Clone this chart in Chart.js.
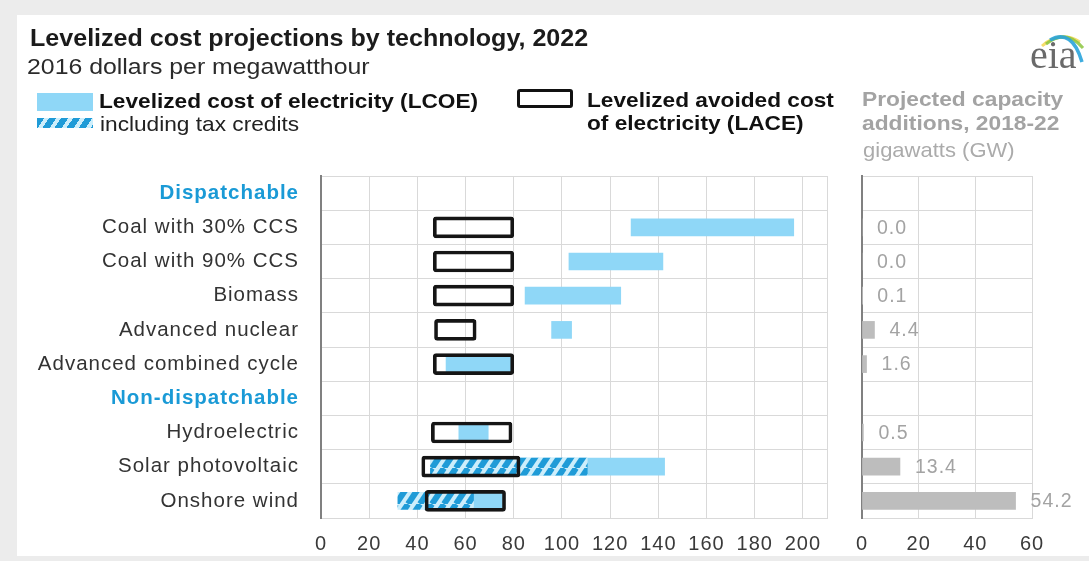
<!DOCTYPE html>
<html>
<head>
<meta charset="utf-8">
<title>Levelized cost projections by technology, 2022</title>
<script src="https://cdn.jsdelivr.net/npm/chart.js@4.4.1/dist/chart.umd.min.js"></script>
<style>
  html, body { margin: 0; padding: 0; width: 1089px; height: 561px; overflow: hidden;
    background: #ececec; font-family: "Liberation Sans", Arial, sans-serif; }
  #panel { position: absolute; left: 17px; top: 15px; width: 1072px; height: 541px; background: #fff; }
  canvas { position: absolute; left: 0; top: 0; }
  .t { position: absolute; white-space: nowrap; line-height: 1; transform: scaleX(1.09); transform-origin: 0 0; }
  .sw { position: absolute; box-sizing: border-box; }
</style>
</head>
<body>
<div id="panel"></div>
<canvas id="costChart" width="1089" height="561"></canvas>
<canvas id="capChart" width="1089" height="561"></canvas>

<div class="t" style="left:30px;top:27px;font-size:23px;font-weight:bold;color:#1b1b1b">Levelized cost projections by technology, 2022</div>
<div class="t" style="left:27px;top:55px;font-size:22.8px;color:#2b2b2b">2016 dollars per megawatthour</div>

<!-- legend -->
<div class="sw" style="left:37px;top:93px;width:56px;height:18px;background:#8fd7f7"></div>
<div class="sw" style="left:37px;top:118px;width:56px;height:10px;background:repeating-linear-gradient(124deg,#1f9bd7 0 6px,#cdeefb 6px 10px)"></div>
<div class="t" style="left:99px;top:91px;font-size:20.8px;font-weight:bold;color:#111">Levelized cost of electricity (LCOE)</div>
<div class="t" style="left:100px;top:114px;font-size:20.8px;color:#222">including tax credits</div>
<div class="sw" style="left:517px;top:89px;width:56px;height:19px;border:3px solid #111;border-radius:3px"></div>
<div class="t" style="left:587px;top:90px;font-size:20.8px;font-weight:bold;color:#111">Levelized avoided cost</div>
<div class="t" style="left:587px;top:113px;font-size:20.8px;font-weight:bold;color:#111">of electricity (LACE)</div>

<!-- capacity panel heading -->
<div class="t" style="left:862px;top:89px;font-size:20.9px;font-weight:bold;color:#a3a3a3">Projected capacity</div>
<div class="t" style="left:862px;top:113px;font-size:20.9px;font-weight:bold;color:#a3a3a3">additions, 2018-22</div>
<div class="t" style="left:863px;top:140px;font-size:20.2px;color:#ababab">gigawatts (GW)</div>

<!-- agency mark -->
<svg style="position:absolute;left:1020px;top:22px" width="69" height="56" viewBox="0 0 69 56">
  <path d="M22 24 Q40 8 60 20" fill="none" stroke="#f3d447" stroke-width="3" opacity="0.8"/>
  <path d="M26 22 Q46 6 63 26" fill="none" stroke="#8cc63f" stroke-width="3" opacity="0.85"/>
  <path d="M30 18 Q52 6 62 40" fill="none" stroke="#2aa4dc" stroke-width="3.5" opacity="0.9"/>
  <text x="10" y="46" font-family="Liberation Serif, serif" font-size="40" fill="#6a6a6a">eia</text>
</svg>

<script>
// Rows of the chart, top to bottom; group headings carry no values.
const categories = [
  'Dispatchable',
  'Coal with 30% CCS',
  'Coal with 90% CCS',
  'Biomass',
  'Advanced nuclear',
  'Advanced combined cycle',
  'Non-dispatchable',
  'Hydroelectric',
  'Solar photovoltaic',
  'Onshore wind'
];
const groupHeadings = ['Dispatchable', 'Non-dispatchable'];

// Levelized avoided cost of electricity (LACE) range, $/MWh
const laceLow  = [null, 46.6, 46.6, 46.6, 47.1, 46.6, null, 45.8, 41.8, 43.2];
const laceHigh = [null, 80.0, 80.0, 80.0, 64.4, 80.0, null, 79.3, 82.6, 76.6];

// Levelized cost of electricity (LCOE) range, $/MWh
const lcoeLow  = [null, 128.7, 102.9, 84.7, 95.7, 51.9, null, 57.2, 58.0, 45.0];
const lcoeHigh = [null, 196.2, 141.9, 124.4, 104.0, 79.0, null, 69.4, 142.6, 75.3];

// LCOE range including tax credits, $/MWh
const taxLow   = [null, null, null, null, null, null, null, null, 45.4, 31.9];
const taxHigh  = [null, null, null, null, null, null, null, null, 110.5, 63.3];

// Projected capacity additions 2018-22, GW
const capacityGW = [null, 0.0, 0.0, 0.1, 4.4, 1.6, null, 0.5, 13.4, 54.2];

// Axis ticks
const costTicks = [0, 20, 40, 60, 80, 100, 120, 140, 160, 180, 200];
const costAxisMax = 210;
const gwTicks = [0, 20, 40, 60];

const GRID = '#d9d9d9';
const AXIS = '#808080';
const LIGHT_BLUE = '#8fd7f7';
const FONT = 'Liberation Sans';

const ranges = (lo, hi) => lo.map((v, i) => (v == null || hi[i] == null) ? null : [v, hi[i]]);

function stripePattern(dark, light) {
  const c = document.createElement('canvas');
  c.width = 12; c.height = 18;
  const g = c.getContext('2d');
  g.fillStyle = light;
  g.fillRect(0, 0, 12, 18);
  g.strokeStyle = dark;
  g.lineWidth = 6;
  for (const dx of [-12, 0, 12]) {
    g.beginPath();
    g.moveTo(dx, 18);
    g.lineTo(dx + 12, 0);
    g.stroke();
  }
  return g.createPattern(c, 'repeat');
}

const isHeading = i => groupHeadings.includes(categories[i]);

// Slightly spaced lettering for all canvas text
const wideText = {
  id: 'wideText',
  beforeDraw(chart) { chart.ctx.letterSpacing = '1px'; },
  afterDraw(chart) { chart.ctx.letterSpacing = '0px'; }
};

// Left panel: cost ranges
new Chart(document.getElementById('costChart'), {
  type: 'bar',
  data: {
    labels: categories,
    datasets: [
      { // LACE outline, drawn on top
        label: 'Levelized avoided cost of electricity (LACE)',
        data: ranges(laceLow, laceHigh),
        backgroundColor: 'rgba(0,0,0,0)',
        borderColor: '#151515',
        borderWidth: 3,
        borderRadius: 3,
        borderSkipped: false,
        barThickness: 21,
        grouped: false
      },
      {
        label: 'including tax credits',
        data: ranges(taxLow, taxHigh),
        backgroundColor: stripePattern('#1f9bd7', '#cdeefb'),
        borderWidth: 0,
        barThickness: 17,
        grouped: false
      },
      {
        label: 'Levelized cost of electricity (LCOE)',
        data: ranges(lcoeLow, lcoeHigh),
        backgroundColor: LIGHT_BLUE,
        borderWidth: 0,
        barThickness: 17,
        grouped: false
      }
    ]
  },
  options: {
    indexAxis: 'y',
    responsive: false,
    animation: false,
    events: [],
    layout: { padding: { top: 176, left: 0, right: 1089 - 827, bottom: 0 } },
    plugins: { legend: { display: false }, tooltip: { enabled: false } },
    scales: {
      x: {
        type: 'linear',
        min: 0,
        max: costAxisMax,
        afterBuildTicks: axis => { axis.ticks = costTicks.concat([costAxisMax]).map(v => ({ value: v })); },
        afterFit: axis => { axis.height = 561 - 518; },
        grid: { color: GRID, lineWidth: 1, drawTicks: false },
        border: { color: GRID },
        ticks: {
          autoSkip: false, maxRotation: 0, padding: 14,
          color: '#3a3a3a',
          font: { family: FONT, size: 20 },
          callback: v => costTicks.includes(v) ? String(v) : ''
        }
      },
      y: {
        type: 'category',
        afterFit: axis => { axis.width = 321; },
        grid: { color: GRID, lineWidth: 1, drawTicks: false, offset: true },
        border: { color: AXIS, width: 2 },
        ticks: {
          autoSkip: false,
          padding: 22,
          color: ctx => isHeading(ctx.index) ? '#1a9ad6' : '#333333',
          font: ctx => isHeading(ctx.index)
            ? { family: FONT, size: 20.5, weight: 'bold' }
            : { family: FONT, size: 20.5 }
        }
      }
    }
  },
  plugins: [wideText]
});

// Right panel: capacity additions with value labels
const valueLabels = {
  id: 'valueLabels',
  afterDatasetsDraw(chart) {
    const ctx = chart.ctx;
    const meta = chart.getDatasetMeta(0);
    const xs = chart.scales.x;
    ctx.save();
    ctx.font = '19.5px "Liberation Sans"';
    ctx.fillStyle = '#a3a3a3';
    ctx.textAlign = 'left';
    ctx.textBaseline = 'middle';
    meta.data.forEach((bar, i) => {
      const v = capacityGW[i];
      if (v == null) return;
      ctx.fillText(v.toFixed(1), xs.getPixelForValue(v) + 15, bar.y + 1);
    });
    ctx.restore();
  }
};

new Chart(document.getElementById('capChart'), {
  type: 'bar',
  data: {
    labels: categories,
    datasets: [{
      label: 'Projected capacity additions, 2018-22',
      data: capacityGW,
      backgroundColor: '#bdbdbd',
      borderWidth: 0,
      barThickness: 17
    }]
  },
  options: {
    indexAxis: 'y',
    responsive: false,
    animation: false,
    events: [],
    layout: { padding: { top: 176, left: 862, right: 1089 - 1032, bottom: 0 } },
    plugins: { legend: { display: false }, tooltip: { enabled: false } },
    scales: {
      x: {
        type: 'linear',
        min: 0,
        max: gwTicks[gwTicks.length - 1],
        afterBuildTicks: axis => { axis.ticks = gwTicks.map(v => ({ value: v })); },
        afterFit: axis => { axis.height = 561 - 518; },
        grid: { color: GRID, lineWidth: 1, drawTicks: false },
        border: { color: GRID },
        ticks: {
          autoSkip: false, maxRotation: 0, padding: 14,
          color: '#3a3a3a',
          font: { family: FONT, size: 20 }
        }
      },
      y: {
        type: 'category',
        afterFit: axis => { axis.width = 0; },
        grid: { color: GRID, lineWidth: 1, drawTicks: false, offset: true },
        border: { color: AXIS, width: 2 },
        ticks: { display: false }
      }
    }
  },
  plugins: [wideText, valueLabels]
});
</script>
</body>
</html>
